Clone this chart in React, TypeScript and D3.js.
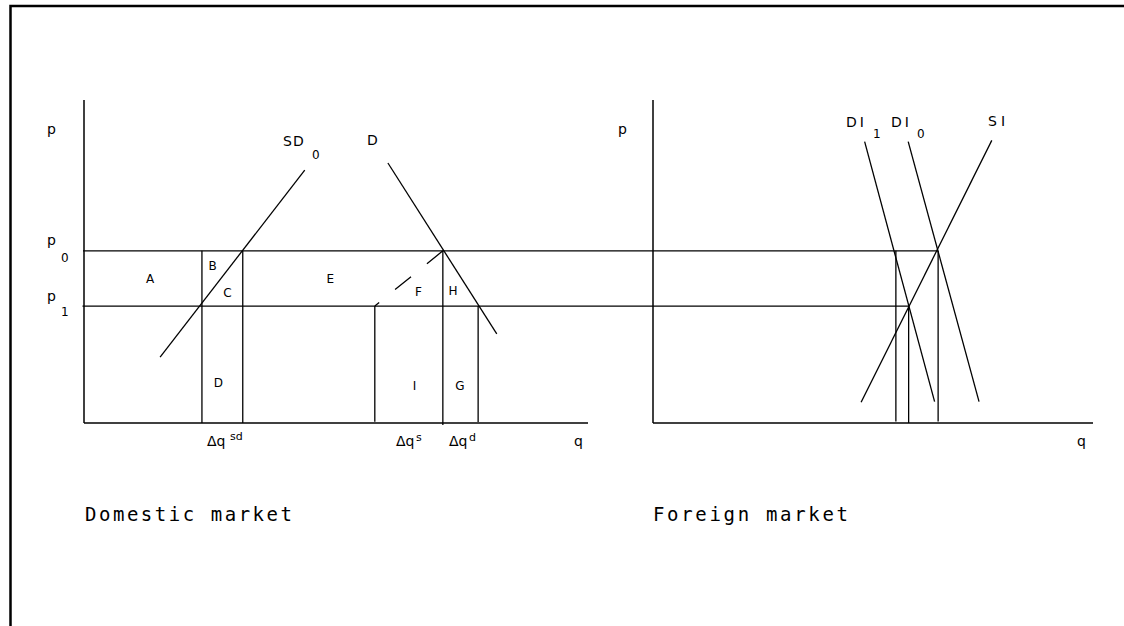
import React from "react";
import * as d3 from "d3";

// ---- data (abstract units: q 0..100 along each panel's axis, p 0..100 up the axis) ----
const P0 = 53.3;
const P1 = 36.2;

const domesticSupply: [number, number][] = [[15.1, 20.4], [43.8, 78.3]];
const domesticDemand: [number, number][] = [[60.3, 80.5], [81.9, 27.6]];
const domesticVerticals = [
  { q: 23.4, from: P0, to: 0 },
  { q: 31.5, from: P0, to: 0 },
  { q: 57.7, from: P1, to: 0.4 },
  { q: 71.2, from: P0, to: -0.6 },
  { q: 78.2, from: P1, to: 0.3 },
];
const dashedSegment: [number, number][] = [[71.2, P0], [57.7, P1]];

const foreignSupply: [number, number][] = [[47.3, 6.4], [77.0, 87.5]];
const foreignDemand1: [number, number][] = [[48.1, 87.1], [64.0, 6.6]];
const foreignDemand0: [number, number][] = [[58.0, 87.1], [74.1, 6.6]];
const foreignVerticals = [
  { q: 55.2, from: P0, to: 0.5 },
  { q: 58.1, from: P1, to: 0 },
  { q: 64.8, from: P0, to: 0.5 },
];
const priceLines = [
  { p: P0, startQ: -0.2, endForeignQ: 64.8 },
  { p: P1, startQ: -0.3, endForeignQ: 58.1 },
];

const areaLabels = ["A", "B", "C", "D", "E", "F", "H", "I", "G"];
const panelTitles = ["Domestic market", "Foreign market"];

export default function App() {
  const y = d3.scaleLinear().domain([0, 100]).range([423, 100]);
  const dx = d3.scaleLinear().domain([0, 100]).range([84, 588]);
  const fx = d3.scaleLinear().domain([0, 100]).range([653, 1093]);

  const lineD = d3.line<[number, number]>().x((d) => dx(d[0])).y((d) => y(d[1]));
  const lineF = d3.line<[number, number]>().x((d) => fx(d[0])).y((d) => y(d[1]));

  const font = "DejaVu Sans, sans-serif";
  const mono = "DejaVu Sans Mono, monospace";
  const sw = 1.3;

  const areaPos: Record<string, [number, number]> = {
    A: [150, 283], B: [212.7, 270], C: [227.5, 297], D: [218.3, 387],
    E: [330.3, 283], F: [418.5, 296], H: [453, 295], I: [414.5, 390], G: [460, 390],
  };

  return (
    <svg
      width={1124}
      height={626}
      style={{ position: "absolute", left: 0, top: 0, background: "#fff" }}
      fontFamily={font}
    >
      <rect x={0} y={0} width={1124} height={626} fill="#fff" />
      {/* frame */}
      <rect x={10.5} y={6} width={1300} height={800} fill="none" stroke="#000" strokeWidth={2.5} />

      {/* axes */}
      <g stroke="#000" strokeWidth={1.5}>
        <line x1={dx(0)} y1={y(0)} x2={dx(0)} y2={y(100)} />
        <line x1={dx(0)} y1={y(0)} x2={dx(100)} y2={y(0)} />
        <line x1={fx(0)} y1={y(0)} x2={fx(0)} y2={y(100)} />
        <line x1={fx(0)} y1={y(0)} x2={fx(100)} y2={y(0)} />
      </g>

      <g stroke="#000" strokeWidth={sw} fill="none">
        {priceLines.map((l, i) => (
          <line key={i} x1={dx(l.startQ)} y1={y(l.p)} x2={fx(l.endForeignQ)} y2={y(l.p)} />
        ))}
        <path d={lineD(domesticSupply)!} />
        <path d={lineD(domesticDemand)!} />
        {domesticVerticals.map((v, i) => (
          <line key={i} x1={dx(v.q)} y1={y(v.from)} x2={dx(v.q)} y2={y(v.to)} />
        ))}
        <path d={lineD(dashedSegment)!} strokeDasharray="20.5 20.5" />
        <path d={lineF(foreignSupply)!} />
        <path d={lineF(foreignDemand1)!} />
        <path d={lineF(foreignDemand0)!} />
        {foreignVerticals.map((v, i) => (
          <line key={i} x1={fx(v.q)} y1={y(v.from)} x2={fx(v.q)} y2={y(v.to)} />
        ))}
      </g>

      {/* axis labels */}
      <g fill="#000" fontSize={14}>
        <text x={47} y={134}>p</text>
        <text x={47} y={245}>p</text>
        <text x={61} y={262} fontSize={12}>0</text>
        <text x={47} y={301}>p</text>
        <text x={61} y={316} fontSize={12}>1</text>
        <text x={283} y={146} letterSpacing={1}>SD</text>
        <text x={312} y={159} fontSize={12}>0</text>
        <text x={367} y={145}>D</text>
        <text x={574} y={446}>q</text>
        <text x={618} y={134}>p</text>
        <text x={1077} y={446}>q</text>
        <text x={846} y={127} letterSpacing={3}>DI</text>
        <text x={873} y={138} fontSize={12}>1</text>
        <text x={891} y={127} letterSpacing={3}>DI</text>
        <text x={917} y={138} fontSize={12}>0</text>
        <text x={988} y={126} letterSpacing={4}>SI</text>

        <text x={207} y={446}>Δq</text>
        <text x={230} y={440} fontSize={11}>sd</text>
        <text x={396} y={446}>Δq</text>
        <text x={416} y={441} fontSize={11}>s</text>
        <text x={449} y={446}>Δq</text>
        <text x={469} y={441} fontSize={11}>d</text>
      </g>

      {/* area labels */}
      <g fill="#000" fontSize={12} textAnchor="middle">
        {areaLabels.map((l) => (
          <text key={l} x={areaPos[l][0]} y={areaPos[l][1]}>{l}</text>
        ))}
      </g>

      {/* panel titles */}
      <g fill="#000" fontSize={19} fontFamily={mono}>
        <text x={85} y={521} textLength={207} lengthAdjust="spacing">{panelTitles[0]}</text>
        <text x={653} y={521} textLength={195} lengthAdjust="spacing">{panelTitles[1]}</text>
      </g>
    </svg>
  );
}
